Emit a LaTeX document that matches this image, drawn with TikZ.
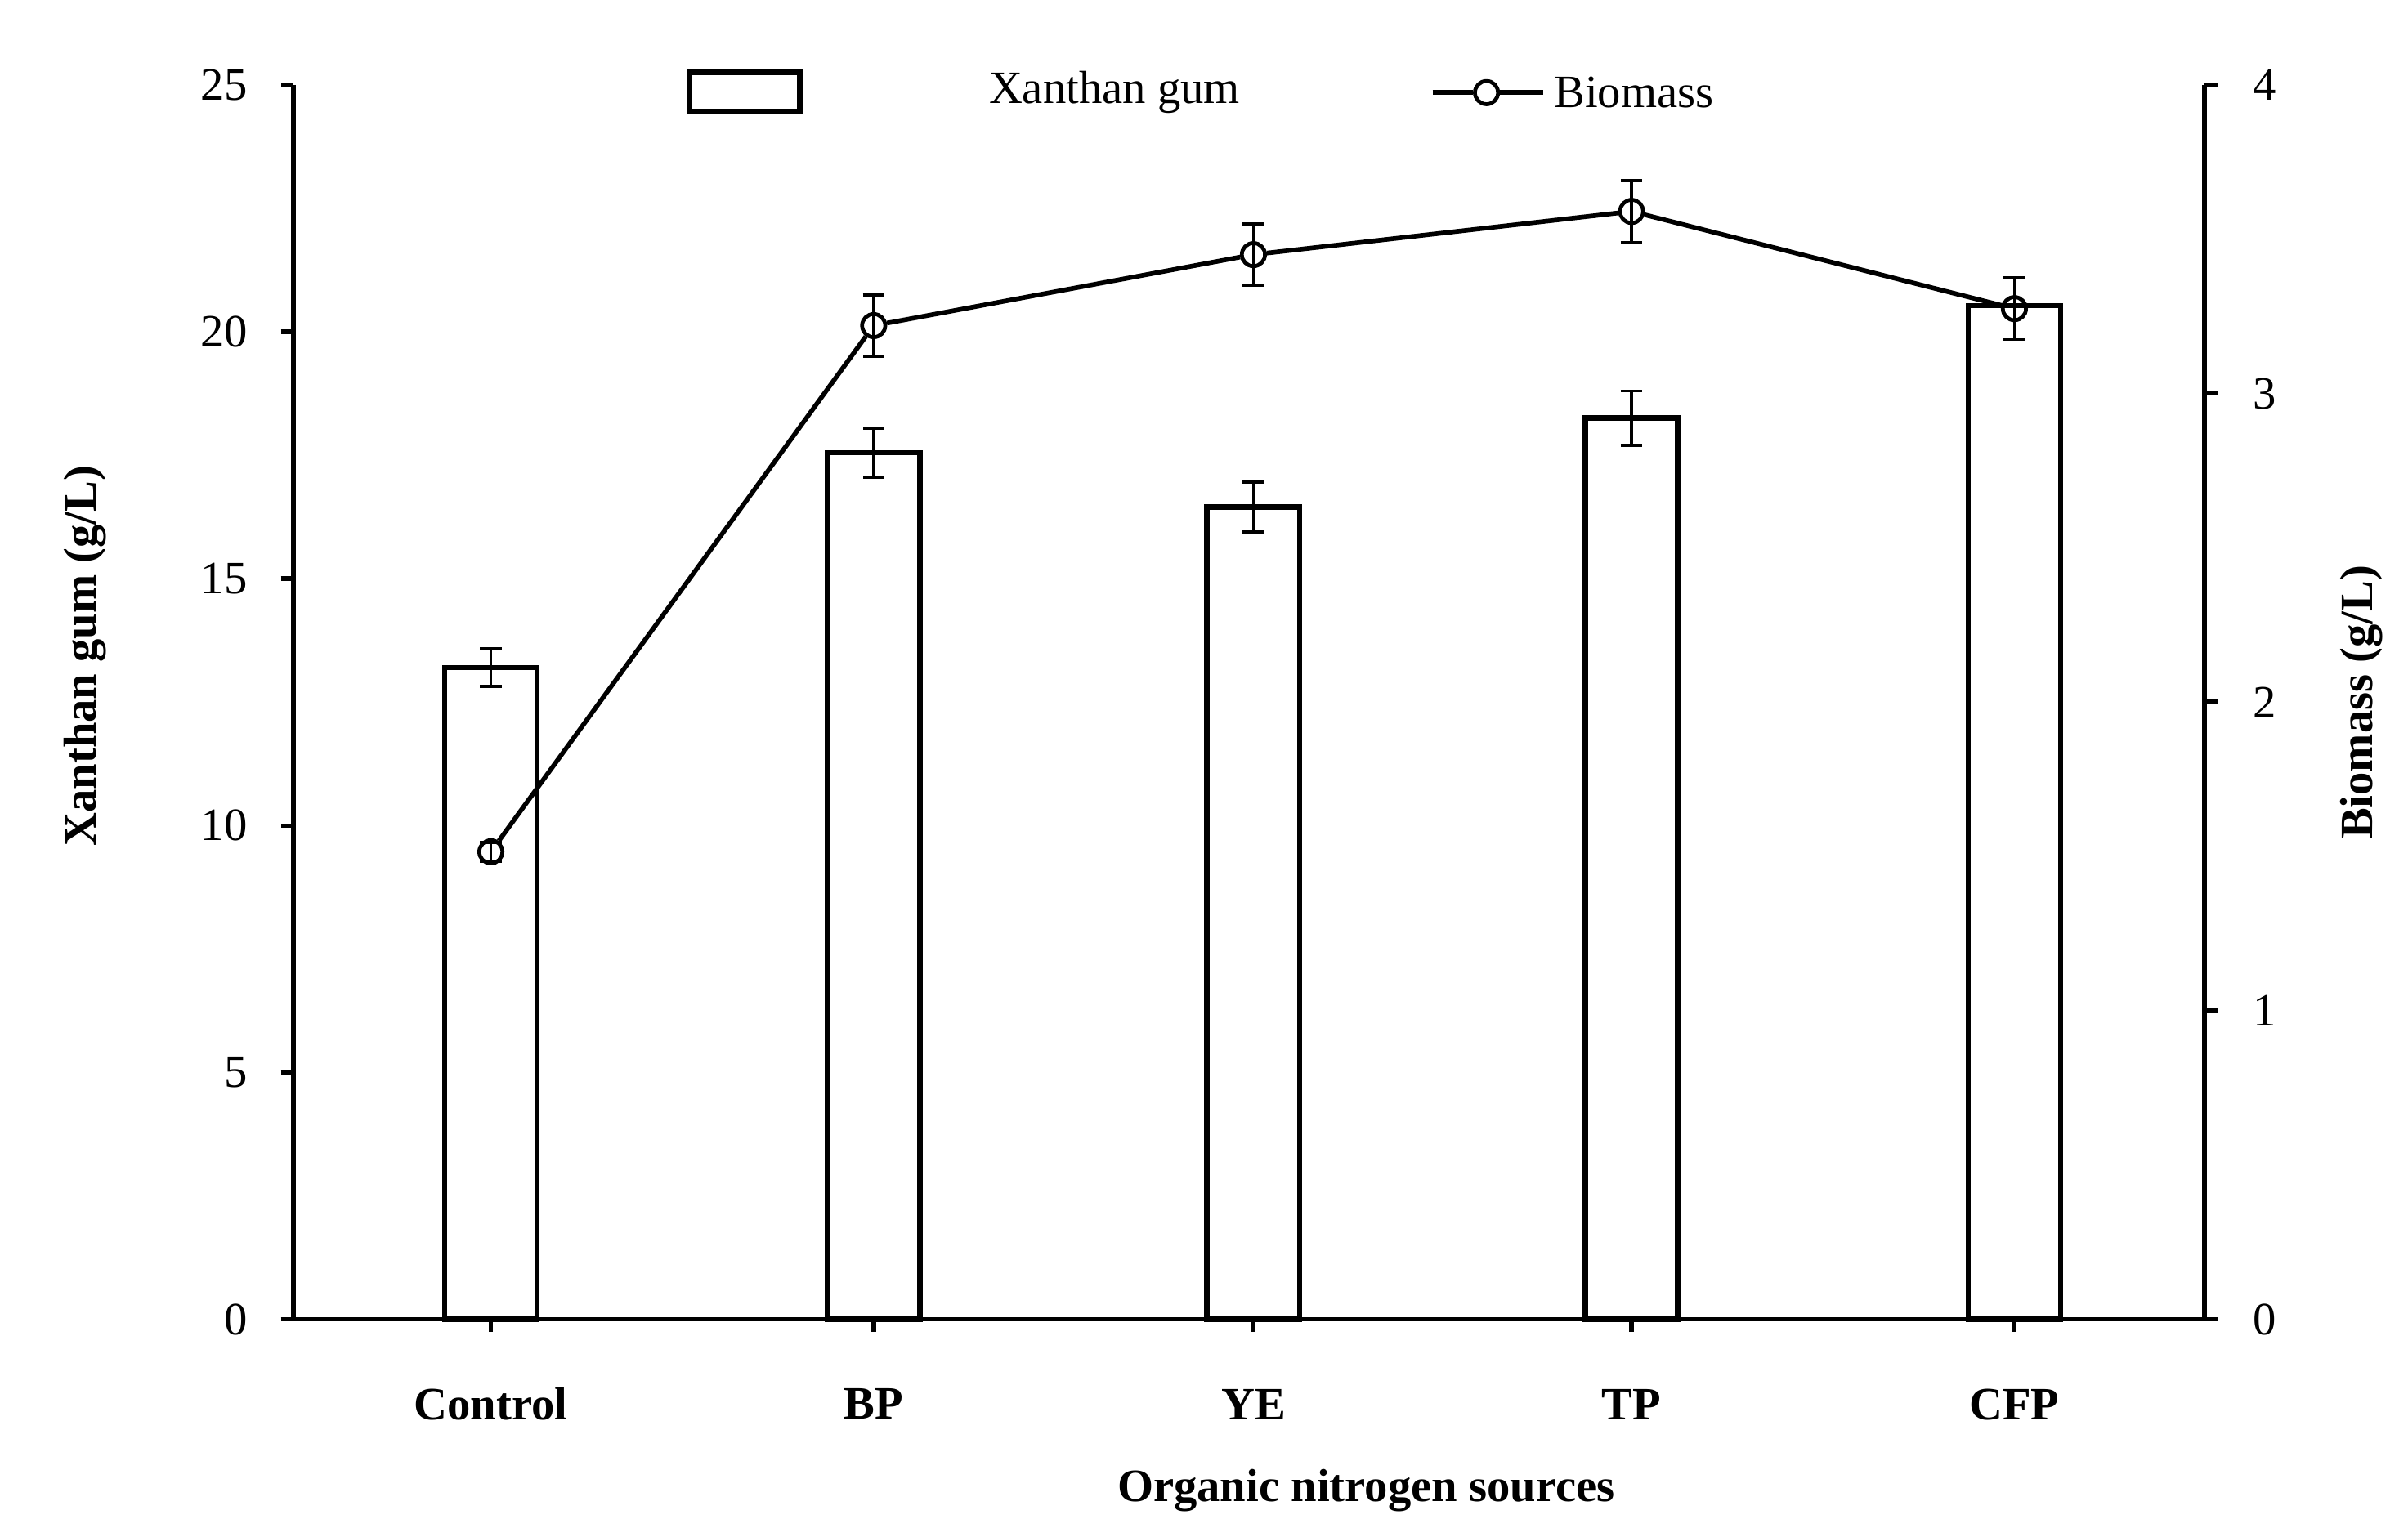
\documentclass[tikz,border=0pt]{standalone}
\usepackage{fontspec}
\setmainfont{Liberation Serif}
\begin{document}
\begin{tikzpicture}[x=1pt,y=-1pt,line width=3pt,
  lbl/.style={font=\fontsize{30}{36}\selectfont},
  blbl/.style={font=\fontsize{30}{36}\selectfont\bfseries},
  bar/.style={draw,fill=white,line width=3.5pt},
  eb/.style={line width=2pt},
  pt/.style={circle,draw,fill=none,line width=2.5pt,minimum size=15pt,inner sep=0pt}]
\useasboundingbox (0,0) rectangle (1560,996);
% axes
\draw (190,55) -- (190,855) -- (1428,855) -- (1428,55);
\foreach \v in {0,5,...,25}{
  \pgfmathsetmacro\yy{855-32*\v}
  \draw (182,\yy) -- (190,\yy);
  \node[lbl,anchor=east] (l\v) at (165,\yy) {\v};}
\foreach \v in {0,...,4}{
  \pgfmathsetmacro\yy{855-200*\v}
  \draw (1428,\yy) -- (1437,\yy);
  \node[lbl,anchor=west] (r\v) at (1455,\yy) {\v};}
% bars
\foreach \x/\v/\e/\n in {318/13.2/0.38/Control,566/17.55/0.5/BP,812/16.45/0.5/YE,1057/18.25/0.55/TP,1305/20.53/0/CFP}{
  \pgfmathsetmacro\yy{855-32*\v}
  \draw[bar] (\x-30,855) rectangle (\x+30,\yy);
  \draw (\x,855) -- (\x,863);
  \ifdim\e pt>0pt
  \pgfmathsetmacro\ya{855-32*(\v+\e)}\pgfmathsetmacro\yb{855-32*(\v-\e)}
  \draw[eb] (\x,\ya) -- (\x,\yb) (\x-7,\ya) -- (\x+7,\ya) (\x-7,\yb) -- (\x+7,\yb);
  \fi
  \node[blbl] (c\n) at (\x,910) {\n};}
% biomass
\foreach \x/\v/\e/\n in {318/1.515/0.03/a,566/3.22/0.1/b,812/3.45/0.1/c,1057/3.59/0.1/d,1305/3.275/0.1/e}{
  \pgfmathsetmacro\yy{855-200*\v}
  \pgfmathsetmacro\ya{855-200*(\v+\e)}\pgfmathsetmacro\yb{855-200*(\v-\e)}
  \draw[eb] (\x,\ya) -- (\x,\yb) (\x-7,\ya) -- (\x+7,\ya) (\x-7,\yb) -- (\x+7,\yb);
  \node[pt] (p\n) at (\x,\yy) {};}
\draw (pa) -- (pb) -- (pc) -- (pd) -- (pe);
% legend
\draw[line width=3.5pt] (447,47) rectangle (518,72);
\node[lbl] (lx) at (722,60) {Xanthan gum};
\node[pt] (lp) at (963,60) {};
\draw (928,60) -- (lp) -- (1000,60);
\node[lbl,anchor=west] (lb) at (1002,60) {Biomass};
% titles
\node[blbl] (xt) at (885,966) {Organic nitrogen sources};
\node[blbl,rotate=90] (yl) at (55,425) {Xanthan gum (g/L)};
\node[blbl,rotate=90] (yr) at (1530,455) {Biomass (g/L)};
\end{tikzpicture}
\end{document}
